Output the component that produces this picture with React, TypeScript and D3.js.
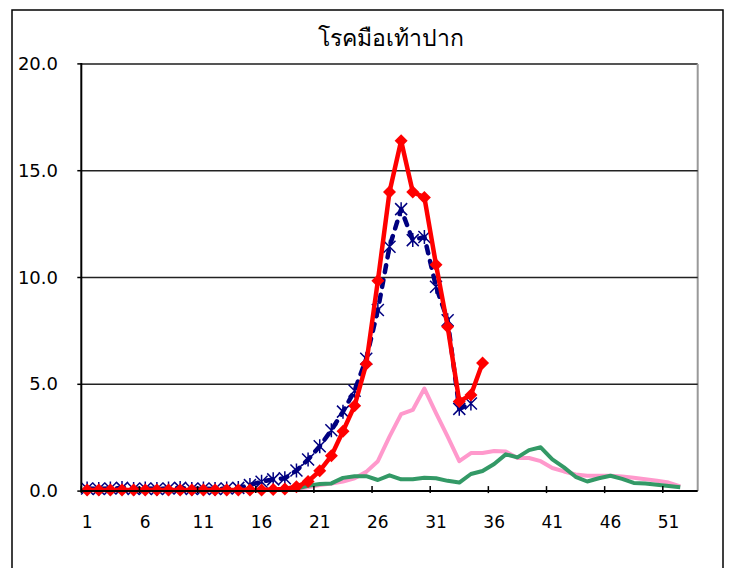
import React from "react";
import * as d3 from "d3";

const title = "โรคมือเท้าปาก";
const weeks: number[] = Array.from({ length: 53 }, (_, i) => i + 1);
const xTickLabels: number[] = [1, 6, 11, 16, 21, 26, 31, 36, 41, 46, 51];
const yTicks: number[] = [0, 5, 10, 15, 20];

// current year (red, diamonds) weeks 1-35
const redValues: number[] = [
  0.05, 0.05, 0.05, 0.05, 0.05, 0.05, 0.05, 0.05, 0.05, 0.05,
  0.05, 0.05, 0.05, 0.05, 0.05, 0.05, 0.07, 0.1, 0.2, 0.45,
  0.95, 1.65, 2.8, 4.0, 5.95, 9.85, 14.0, 16.4, 14.0, 13.75,
  10.6, 7.7, 4.2, 4.5, 6.0,
];
// navy dashed with stars, weeks 1-34
const blueValues: number[] = [
  0.12, 0.1, 0.12, 0.15, 0.1, 0.12, 0.1, 0.12, 0.15, 0.1,
  0.12, 0.1, 0.12, 0.15, 0.28, 0.44, 0.55, 0.6, 0.96, 1.48,
  2.1, 2.85, 3.72, 4.7, 6.2, 8.48, 11.44, 13.2, 11.75, 11.9,
  9.57, 8.0, 3.85, 4.1,
];
// pink, weeks 1-52
const pinkValues: number[] = [
  0.05, 0.05, 0.05, 0.05, 0.05, 0.05, 0.05, 0.05, 0.05, 0.05,
  0.05, 0.05, 0.05, 0.05, 0.05, 0.05, 0.05, 0.05, 0.1, 0.18,
  0.28, 0.35, 0.45, 0.6, 0.9, 1.4, 2.55, 3.6, 3.8, 4.8,
  3.65, 2.55, 1.4, 1.78, 1.78, 1.88, 1.85, 1.55, 1.55, 1.4,
  1.08, 0.92, 0.78, 0.72, 0.72, 0.72, 0.68, 0.62, 0.56, 0.48,
  0.4, 0.22,
];
// green, weeks 1-52
const greenValues: number[] = [
  0.05, 0.05, 0.05, 0.05, 0.05, 0.05, 0.05, 0.05, 0.05, 0.05,
  0.05, 0.05, 0.05, 0.05, 0.05, 0.05, 0.05, 0.05, 0.12, 0.25,
  0.33, 0.36, 0.62, 0.7, 0.7, 0.52, 0.74, 0.55, 0.55, 0.62,
  0.6, 0.48, 0.4, 0.8, 0.94, 1.27, 1.72, 1.58, 1.92, 2.05,
  1.49, 1.11, 0.67, 0.45, 0.6, 0.72, 0.57, 0.38, 0.36, 0.3,
  0.24, 0.18,
];

const W = 729;
const H = 568;
const plotLeft = 81.3;
const plotRight = 697.7;
const plotTop = 63.9;
const plotBottom = 491.1;
const font = "'DejaVu Sans', sans-serif";

export default function App() {
  const x = d3.scaleBand<number>().domain(weeks).range([plotLeft, plotRight]).padding(0);
  const bw = x.bandwidth();
  const cx = (w: number) => (x(w) as number) + bw / 2;
  const y = d3.scaleLinear().domain([0, 20]).range([plotBottom, plotTop]);

  const line = d3
    .line<number>()
    .x((_, i) => cx(weeks[i]))
    .y((d) => y(d));

  const dr = 6.5;
  const diamond = `M0,${-dr}L${dr},0L0,${dr}L${-dr},0Z`;
  const star = (px: number, py: number, r: number) =>
    `M${px - r},${py - r}L${px + r},${py + r}M${px - r},${py + r}L${px + r},${py - r}M${px},${py - r - 1}L${px},${py + r + 1}`;

  const tickBoundaries = d3.range(0, 51, 5);

  return (
    <svg
      width={W}
      height={H}
      style={{ position: "absolute", left: 0, top: 0, background: "#fff" }}
    >
      <rect x={12} y={10} width={711} height={600} fill="#fff" stroke="#000" strokeWidth={1.5} />
      <text x={391} y={46} textAnchor="middle" fontFamily={font} fontSize={23} fill="#000">
        {title}
      </text>

      {/* plot frame */}
      <line x1={plotLeft} x2={plotRight} y1={plotTop} y2={plotTop} stroke="#555" strokeWidth={2} />
      <line x1={plotRight} x2={plotRight} y1={plotTop} y2={plotBottom} stroke="#999" strokeWidth={2} />
      {yTicks
        .filter((t) => t > 0 && t < 20)
        .map((t) => (
          <line key={t} x1={plotLeft} x2={plotRight} y1={y(t)} y2={y(t)} stroke="#222" strokeWidth={1.5} />
        ))}
      {yTicks.map((t) => (
        <text
          key={"yl" + t}
          x={58}
          y={y(t) + 6}
          textAnchor="end"
          fontFamily={font}
          fontSize={18}
          fill="#000"
        >
          {t.toFixed(1)}
        </text>
      ))}
      {yTicks.map((t) => (
        <line key={"yt" + t} x1={plotLeft - 4} x2={plotLeft} y1={y(t)} y2={y(t)} stroke="#000" strokeWidth={1.5} />
      ))}

      {/* series */}
      <path d={line(pinkValues) as string} fill="none" stroke="#FF99CC" strokeWidth={4} strokeLinejoin="round" />
      <path d={line(greenValues) as string} fill="none" stroke="#339966" strokeWidth={4} strokeLinejoin="round" />
      <path
        d={line(blueValues) as string}
        fill="none"
        stroke="#000080"
        strokeWidth={4.5}
        strokeDasharray="7 8"
        strokeLinecap="round"
        strokeLinejoin="round"
      />
      {blueValues.map((v, i) => (
        <path key={"b" + i} d={star(cx(weeks[i]), y(v), 6)} stroke="#000080" strokeWidth={1.5} fill="none" />
      ))}
      <path d={line(redValues) as string} fill="none" stroke="#FF0000" strokeWidth={4.5} strokeLinejoin="round" />
      {redValues.map((v, i) => (
        <path key={"r" + i} d={diamond} transform={`translate(${cx(weeks[i])},${y(v)})`} fill="#FF0000" />
      ))}

      {/* axes */}
      <line x1={plotLeft} x2={plotLeft} y1={plotTop - 1} y2={plotBottom + 1} stroke="#000" strokeWidth={2} />
      <line x1={plotLeft} x2={plotRight} y1={plotBottom} y2={plotBottom} stroke="#000" strokeWidth={2} />
      {tickBoundaries.map((b) => (
        <line
          key={"xt" + b}
          x1={plotLeft + b * bw}
          x2={plotLeft + b * bw}
          y1={plotBottom - 5}
          y2={plotBottom + 2}
          stroke="#000"
          strokeWidth={1.5}
        />
      ))}
      {xTickLabels.map((w) => (
        <text key={"xl" + w} x={cx(w)} y={528} textAnchor="middle" fontFamily={font} fontSize={17} fill="#000">
          {w}
        </text>
      ))}
    </svg>
  );
}
